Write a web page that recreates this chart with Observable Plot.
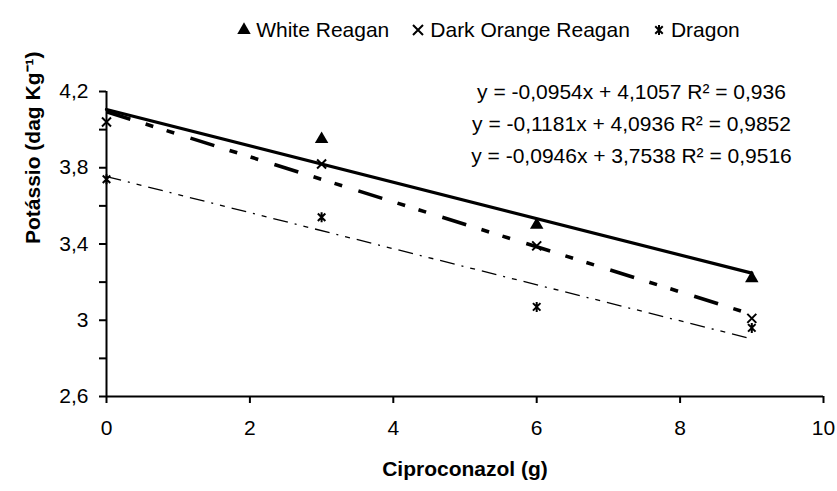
<!DOCTYPE html>
<html>
<head>
<meta charset="utf-8">
<script src="https://cdn.jsdelivr.net/npm/d3@7"></script>
<script src="https://cdn.jsdelivr.net/npm/@observablehq/plot@0.6"></script>
<style>
  html, body { margin: 0; padding: 0; background: #fff; }
  body { width: 837px; height: 491px; overflow: hidden; font-family: "Liberation Sans", Arial, sans-serif; color: #000; }
  #legend { height: 55px; display: flex; justify-content: center; align-items: center; padding-top: 5px; box-sizing: border-box; font-size: 21px; padding-left: 140px; }
  #legend .item { display: flex; align-items: center; margin: 0 11px; }
  #legend svg { margin-right: 5px; overflow: visible; }
  #chart svg { display: block; }
</style>
</head>
<body>
<div id="legend"></div>
<div id="chart"></div>
<script>
// ---- data ----
const doses = [0, 3, 6, 9];
const seriesNames = ["White Reagan", "Dark Orange Reagan", "Dragon"];
const whiteReagan = [null, 3.95, 3.50, 3.22];
const darkOrangeReagan = [4.04, 3.82, 3.39, 3.01];
const dragon = [3.74, 3.54, 3.07, 2.96];
const slopes = [-0.0954, -0.1181, -0.0946];
const intercepts = [4.1057, 4.0936, 3.7538];
const equations = [
  "y = -0,0954x + 4,1057 R² = 0,936",
  "y = -0,1181x + 4,0936 R² = 0,9852",
  "y = -0,0946x + 3,7538 R² = 0,9516"
];
const xTicks = [0, 2, 4, 6, 8, 10];
const yTicks = [2.6, 2.8, 3, 3.2, 3.4, 3.6, 3.8, 4, 4.2];
const yLabelTicks = [2.6, 3, 3.4, 3.8, 4.2];
const xTitle = "Ciproconazol (g)";
const yTitle = "Potássio (dag Kg⁻¹)";

// ---- symbols ----
const timesSymbol = { draw(ctx, size) { const r = Math.sqrt(size / Math.PI); ctx.moveTo(-r, -r); ctx.lineTo(r, r); ctx.moveTo(-r, r); ctx.lineTo(r, -r); } };
const starSymbol = { draw(ctx, size) { const r = Math.sqrt(size / Math.PI); const d = r * 0.75; ctx.moveTo(-d, -d); ctx.lineTo(d, d); ctx.moveTo(-d, d); ctx.lineTo(d, -d); ctx.moveTo(0, -r); ctx.lineTo(0, r); } };

const seriesValues = [whiteReagan, darkOrangeReagan, dragon];
const points = seriesNames.map((name, s) => doses.map((x, i) => ({ series: name, x, y: seriesValues[s][i] })));
const trend = seriesNames.map((name, s) => [0, 9].map(x => ({ series: name, x, y: intercepts[s] + slopes[s] * x })));

const fmt = d => String(d).replace(".", ",");
const isLabeled = d => yLabelTicks.some(v => Math.abs(v - d) < 1e-9);

const chart = Plot.plot({
  width: 837,
  height: 436,
  marginLeft: 106,
  marginRight: 14,
  marginTop: 36,
  marginBottom: 95,
  style: { fontFamily: "Liberation Sans, Arial, sans-serif", fontSize: "21px", color: "#000", background: "#fff", overflow: "visible" },
  x: { domain: [0, 10], label: null },
  y: { domain: [2.6, 4.2], label: null },
  marks: [
    Plot.axisY({ ticks: yTicks, tickSize: 7, tickPadding: 11, strokeWidth: 2, tickFormat: d => isLabeled(d) ? fmt(d) : "", fontSize: 21 }),
    Plot.axisX({ ticks: xTicks, tickSize: 7, tickPadding: 17, strokeWidth: 2, tickFormat: d => String(d), fontSize: 21 }),
    Plot.ruleX([0], { stroke: "#000", strokeWidth: 2 }),
    Plot.ruleY([2.6], { stroke: "#000", strokeWidth: 2 }),
    Plot.dot(points[0], { x: "x", y: "y", symbol: "triangle", r: 5, fill: "#000", stroke: "none" }),
    Plot.dot(points[1], { x: "x", y: "y", symbol: timesSymbol, r: 4.5, stroke: "#000", strokeWidth: 2, fill: "none" }),
    Plot.dot(points[2], { x: "x", y: "y", symbol: starSymbol, r: 5, stroke: "#000", strokeWidth: 2, fill: "none" }),
    Plot.line(trend[0], { x: "x", y: "y", stroke: "#000", strokeWidth: 3.2 }),
    Plot.line(trend[1], { x: "x", y: "y", stroke: "#000", strokeWidth: 3.6, strokeDasharray: "25,16,8,14,8,17", strokeLinecap: "butt" }),
    Plot.line(trend[2], { x: "x", y: "y", stroke: "#000", strokeWidth: 1.3, strokeDasharray: "15,7,2,7,5,7", strokeLinecap: "butt" }),
    Plot.text([equations.join("\n")], { text: d => d, frameAnchor: "top-left", dx: 525, dy: -15, lineAnchor: "top", lineHeight: 1.52, textAnchor: "middle", fontSize: 21, fill: "#000" }),
    Plot.text([xTitle], { text: d => d, frameAnchor: "bottom", dy: 79, fontWeight: "bold", fontSize: 21, fill: "#000" }),
    Plot.text([yTitle], { text: d => d, frameAnchor: "left", dx: -73, rotate: -90, fontWeight: "bold", fontSize: 21, fill: "#000" })
  ]
});
document.getElementById("chart").appendChild(chart);

// ---- legend (HTML, above the chart) ----
const legendSymbols = [d3.symbolTriangle, timesSymbol, starSymbol];
const legend = d3.select("#legend");
seriesNames.forEach((name, i) => {
  const item = legend.append("div").attr("class", "item");
  const svg = item.append("svg").attr("width", 14).attr("height", 14).attr("viewBox", "-7 -7 14 14");
  const path = svg.append("path").attr("d", d3.symbol(legendSymbols[i], Math.PI * 25)());
  if (i === 0) path.attr("fill", "#000");
  else path.attr("fill", "none").attr("stroke", "#000").attr("stroke-width", 2);
  item.append("span").text(name);
});
</script>
</body>
</html>
